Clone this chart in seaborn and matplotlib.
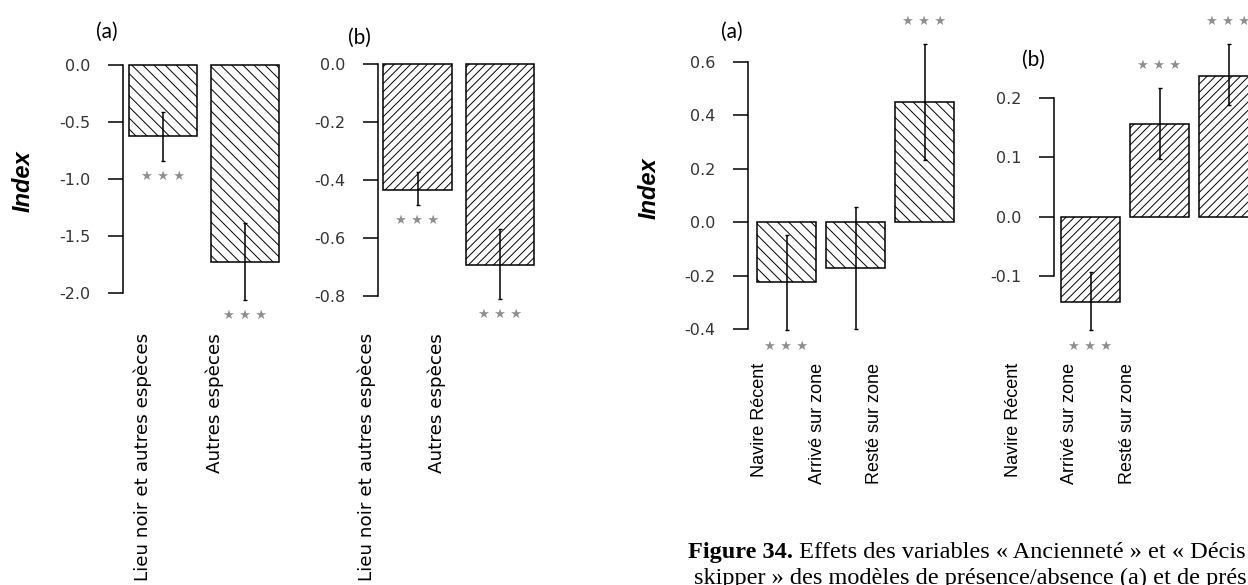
import matplotlib
matplotlib.use("Agg")
import matplotlib.pyplot as plt
import pandas as pd
import seaborn as sns

# ---------------- data ----------------
species_labels = ["Lieu noir et autres espèces", "Autres espèces"]
species_a_index = [-0.62, -1.73]
species_a_low = [-0.84, -2.06]
species_a_high = [-0.41, -1.39]
species_a_sig = ["***", "***"]
species_a_ticks = [0.0, -0.5, -1.0, -1.5, -2.0]

species_b_index = [-0.434, -0.692]
species_b_low = [-0.486, -0.81]
species_b_high = [-0.372, -0.569]
species_b_sig = ["***", "***"]
species_b_ticks = [0.0, -0.2, -0.4, -0.6, -0.8]

skipper_labels = ["Navire Récent", "Arrivé sur zone", "Resté sur zone"]
skipper_a_index = [-0.225, -0.172, 0.449]
skipper_a_low = [-0.405, -0.40, 0.232]
skipper_a_high = [-0.049, 0.056, 0.667]
skipper_a_sig = ["***", "", "***"]
skipper_a_ticks = [0.6, 0.4, 0.2, 0.0, -0.2, -0.4]

skipper_b_index = [-0.144, 0.156, 0.237]
skipper_b_low = [-0.191, 0.097, 0.189]
skipper_b_high = [-0.094, 0.217, 0.291]
skipper_b_sig = ["***", "***", "***"]
skipper_b_ticks = [0.2, 0.1, 0.0, -0.1]

panel_tags = ["(a)", "(b)", "(a)", "(b)"]
y_title = "Index"
caption_bold = "Figure 34."
caption_rest = " Effets des variables « Ancienneté » et « Décis"
caption_line2 = "skipper » des modèles de présence/absence (a) et de prés"

# ---------------- style ----------------
sns.set_theme(style="white")
plt.rcParams["font.family"] = ["DejaVu Sans"]
plt.rcParams["axes.unicode_minus"] = False
plt.rcParams["hatch.linewidth"] = 0.7

W, H = 1248, 585
fig = plt.figure(figsize=(W / 100, H / 100), dpi=100)
fig.patch.set_facecolor("white")


def px_x(x):
    return x / W


def px_y(y):
    return 1 - y / H


def draw_panel(labels, values, low, high, sig, ticks, *, spine, x0, unit,
               top, bottom, xmax, width, hatch, tag, tag_xy,
               label_x, label_dx, label_top, label_font, label_size,
               ylabel_xy=None):
    left_px = spine
    right_px = x0 + xmax * unit
    ax = fig.add_axes([px_x(left_px), px_y(bottom),
                       (right_px - left_px) / W, (bottom - top) / H])
    ax.set_facecolor("none")
    df = pd.DataFrame({"cat": labels, "val": values})
    sns.barplot(data=df, x="cat", y="val", ax=ax, color="white",
                saturation=1, edgecolor="black", linewidth=1.1,
                hatch=hatch, width=width, errorbar=None)
    for p in ax.patches:
        p.set_clip_on(False)

    pos = list(range(len(values)))
    mids = [(lo + hi) / 2 for lo, hi in zip(low, high)]
    halfs = [(hi - lo) / 2 for lo, hi in zip(low, high)]
    eb = ax.errorbar(pos, mids, yerr=halfs, fmt="none", ecolor="black",
                     elinewidth=1.1, capsize=1.2, capthick=1.0)
    for art in eb.get_children():
        art.set_clip_on(False)

    # significance stars beyond the end of each interval
    for i, s in enumerate(sig):
        if not s:
            continue
        stars = " ".join("\u2605" * len(s))
        if values[i] < 0:
            anchor, dy = (i, low[i]), -11.5
        else:
            anchor, dy = (i, high[i]), 16
        ax.annotate(stars, anchor, xytext=(0, dy),
                    textcoords="offset points", ha="center", va="center",
                    fontsize=9.5, color="#8e8e8e", annotation_clip=False)

    ax.set_xlim((spine - x0) / unit, xmax)
    ax.set_ylim(min(ticks), max(ticks))
    ax.set_yticks(ticks)
    ax.set_yticklabels([f"{t:.1f}" for t in ticks])
    ax.set_xticks([])
    ax.set_xlabel("")
    ax.set_ylabel("")
    for side in ("top", "right", "bottom"):
        ax.spines[side].set_visible(False)
    ax.spines["left"].set_color("black")
    ax.spines["left"].set_linewidth(1.1)
    ax.tick_params(axis="y", left=True, length=10.5, width=1.1,
                   color="black", pad=13, labelsize=11.5,
                   labelcolor="#333333")

    for i, lab in enumerate(labels):
        fig.text(px_x(label_x + i * label_dx), px_y(label_top), lab,
                 rotation=90, ha="center", va="top", family=label_font,
                 fontsize=label_size, color="black")

    fig.text(px_x(tag_xy[0]), px_y(tag_xy[1]), tag, family="Lato",
             fontsize=15, ha="left", va="center", color="black")

    if ylabel_xy is not None:
        fig.text(px_x(ylabel_xy[0]), px_y(ylabel_xy[1]), y_title,
                 rotation=90, ha="center", va="center",
                 family="Liberation Sans", fontweight="bold",
                 fontstyle="italic", fontsize=17, color="black")
    return ax


draw_panel(species_labels, species_a_index, species_a_low, species_a_high,
           species_a_sig, species_a_ticks, spine=123, x0=163, unit=82,
           top=65, bottom=293, xmax=1.5, width=0.84, hatch="\\\\\\",
           tag=panel_tags[0], tag_xy=(96, 32), label_x=143, label_dx=72,
           label_top=333, label_font="DejaVu Sans", label_size=13.2,
           ylabel_xy=(23, 181))

draw_panel(species_labels, species_b_index, species_b_low, species_b_high,
           species_b_sig, species_b_ticks, spine=378, x0=417.5, unit=82.5,
           top=64, bottom=296, xmax=1.5, width=0.83, hatch="////",
           tag=panel_tags[1], tag_xy=(348, 38), label_x=367, label_dx=70,
           label_top=333, label_font="DejaVu Sans", label_size=13.2)

draw_panel(skipper_labels, skipper_a_index, skipper_a_low, skipper_a_high,
           skipper_a_sig, skipper_a_ticks, spine=748, x0=786.5, unit=69,
           top=62, bottom=329, xmax=2.5, width=0.855, hatch="\\\\\\",
           tag=panel_tags[2], tag_xy=(721, 32), label_x=760, label_dx=57.5,
           label_top=363, label_font="Liberation Sans", label_size=13,
           ylabel_xy=(649, 188))

last_ax = draw_panel(skipper_labels, skipper_b_index, skipper_b_low,
                     skipper_b_high, skipper_b_sig, skipper_b_ticks,
                     spine=1054, x0=1090.5, unit=69, top=98, bottom=276,
                     xmax=2.5, width=0.855, hatch="////",
                     tag=panel_tags[3], tag_xy=(1022, 60), label_x=1013,
                     label_dx=57, label_top=363,
                     label_font="Liberation Sans", label_size=13)

# caption below the right-hand panels
cap_size = 17.5
cap = fig.text(px_x(688), px_y(563), caption_bold, family="Liberation Serif",
               fontweight="bold", fontsize=cap_size, ha="left", va="bottom",
               color="black")
last_ax.annotate(caption_rest, xy=(1, 0), xycoords=cap, ha="left",
                 va="bottom", family="Liberation Serif", fontsize=cap_size,
                 color="black", annotation_clip=False)
fig.text(px_x(694), px_y(589), caption_line2, family="Liberation Serif",
         fontsize=cap_size, ha="left", va="bottom", color="black")

fig.savefig("out.png", dpi=100, facecolor="white")
